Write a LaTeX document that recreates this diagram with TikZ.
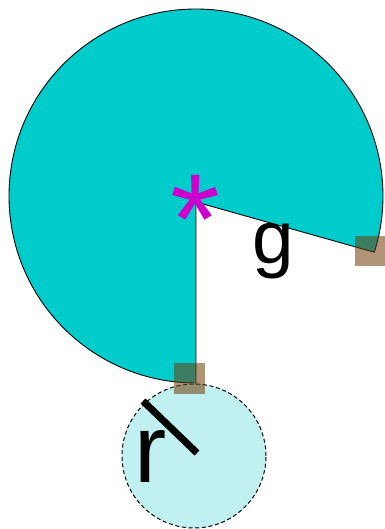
\documentclass[tikz,border=0pt]{standalone}
\usepackage{fontspec}
\setmainfont{Liberation Sans}
\usepackage{tikz}
\usetikzlibrary{positioning, calc}
\definecolor{padCyan}{HTML}{00CCCC}
\definecolor{padPale}{HTML}{C0F0F0}
\definecolor{padMagenta}{HTML}{CC00CC}
\definecolor{padBrown}{RGB}{110,60,10}

\tikzset{
  handle/.style={draw=none, fill=padBrown, fill opacity=0.55,
    minimum size=0.62cm, inner sep=0pt},
  bigtext/.style={anchor=base, inner sep=0pt, text=black}
}

\begin{document}
\begin{tikzpicture}[x=0.02cm, y=0.02cm]
    \useasboundingbox (0,0) rectangle (385,529);
    % ---- big sector ----
    \coordinate (apex) at (196,327);
    \coordinate (mid) at (196,333);
    \coordinate (low) at ($(mid)+(-90:187)$);
    \filldraw[fill=padCyan, draw=black, line width=0.5pt]
      (apex) -- (low) arc[start angle=-90, end angle=-377.5, radius=187]
      -- cycle;
    % ---- small disc with its radius ----
    \coordinate (disc) at (194,73);
    \filldraw[fill=padPale, draw=black, line width=0.55pt,
      dash pattern=on 2.3pt off 1.5pt] (disc) circle[radius=72];
    \coordinate (rin) at (197,76);
    \coordinate (rout) at (143,128);
    \draw[line width=4pt] (rin) -- (rout);
    % ---- labels ----
    \node[bigtext, font=\fontsize{73}{84}\selectfont, text=padMagenta]
      (star) at (195.5,266) {*};
    \node[bigtext, font=\fontsize{42.5}{50}\selectfont] (glabel) at (273,266) {g};
    \node[bigtext, font=\fontsize{55}{64}\selectfont] (rlabel) at (151,47) {r};
    % ---- handles ----
    \node[handle] (hlow) at (189.5,150.5) {};
    \node[handle] (hright) at (370.5,278) {};
\end{tikzpicture}
\end{document}
